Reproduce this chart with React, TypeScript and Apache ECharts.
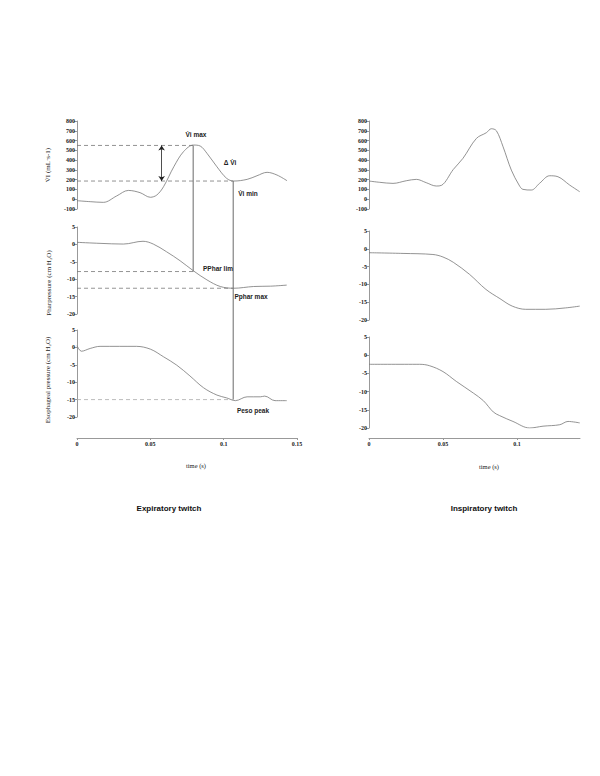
import React, { useEffect, useRef } from "react";
import * as echarts from "echarts";

// ---------- DATA ----------
// Expiratory twitch (left column)
const expViTime = [0, 0.009, 0.018, 0.027, 0.035, 0.043, 0.05, 0.0544, 0.059, 0.066, 0.0726, 0.0794, 0.084, 0.0886, 0.0954, 0.102, 0.1068, 0.116, 0.1227, 0.1296, 0.1364, 0.1432];
const expViValues = [-15, -25, -32, 33, 90, 67, 20, 43, 128, 332, 486, 554, 544, 470, 332, 214, 186, 203, 240, 275, 247, 189];

const expPpharTime = [0, 0.0157, 0.0316, 0.045, 0.052, 0.061, 0.0703, 0.0794, 0.0886, 0.0977, 0.1068, 0.1204, 0.132, 0.143];
const expPpharValues = [0.6, 0.3, 0.1, 0.9, 0.1, -2.1, -4.7, -7.6, -10.2, -12.1, -12.6, -12.1, -12.0, -11.7];

const expPesoTime = [0, 0.003, 0.009, 0.0157, 0.029, 0.0405, 0.05, 0.059, 0.068, 0.077, 0.0863, 0.0954, 0.102, 0.108, 0.116, 0.125, 0.128, 0.135, 0.143];
const expPesoValues = [0.5, -1.1, -0.3, 0.3, 0.3, 0.3, -0.5, -2.7, -5.1, -8.2, -11.6, -13.7, -14.5, -15.3, -14.2, -14.2, -14.0, -15.3, -15.3];

// Inspiratory twitch (right column)
const inspViTime = [0, 0.0072, 0.0162, 0.0252, 0.032, 0.0387, 0.0455, 0.049, 0.057, 0.0635, 0.0726, 0.0793, 0.0827, 0.0861, 0.0906, 0.0962, 0.1014, 0.104, 0.1097, 0.1153, 0.1221, 0.1277, 0.1356, 0.1424];
const inspViValues = [186, 173, 162, 189, 203, 169, 135, 142, 305, 418, 622, 680, 721, 700, 537, 298, 145, 101, 94, 163, 240, 230, 145, 77];

const inspPpharTime = [0, 0.023, 0.0432, 0.05, 0.057, 0.068, 0.079, 0.0885, 0.0968, 0.1059, 0.1194, 0.1329, 0.1424];
const inspPpharValues = [-1.1, -1.3, -1.6, -2.3, -3.8, -7.2, -11.4, -14.0, -16.1, -17.0, -17.0, -16.6, -16.1];

const inspPesoTime = [0, 0.0342, 0.041, 0.05, 0.059, 0.0705, 0.0773, 0.084, 0.0883, 0.0973, 0.1086, 0.1176, 0.1289, 0.1345, 0.1424];
const inspPesoValues = [-2.5, -2.5, -2.9, -4.5, -7.2, -10.4, -12.5, -15.6, -16.6, -18.2, -20.0, -19.5, -19.1, -18.2, -18.6];

// Annotation values (expiratory twitch)
const viMax = 550;
const viMin = 186;
const ppharLim = -7.8;
const ppharMax = -12.6;
const pesoPeak = -15.0;
const tViMax = 0.0792;
const tViMin = 0.1065;
const tArrow = 0.0577;

// Axis ranges / ticks
const viRange = [-100, 800, 100];
const pRange = [-20, 5, 5];
const leftTimeMax = 0.15;
const rightTimeMax = 0.1426;
const timeInterval = 0.05;

const zip = (t: number[], v: number[]) => t.map((x, i) => [x, v[i]]);

export default function App() {
  const ref = useRef<HTMLDivElement>(null);
  useEffect(() => {
    const chart = echarts.init(ref.current!, null, { renderer: "svg" });
    const serif = "Liberation Serif";
    const sans = "Liberation Sans";
    const axisGray = "#999";
    const curveColor = "#777";

    const grids = [
      { left: 77, top: 121, width: 220, height: 88 },
      { left: 77, top: 227, width: 220, height: 87 },
      { left: 77, top: 330, width: 220, height: 87 },
      { left: 369, top: 121, width: 211, height: 88 },
      { left: 369, top: 231, width: 211, height: 89 },
      { left: 369, top: 337, width: 211, height: 91 },
    ];

    const xAxes = grids.map((_, i) => {
      const isLeft = i < 3;
      const bottom = i === 2 || i === 5;
      return {
        type: "value",
        gridIndex: i,
        min: 0,
        max: isLeft ? leftTimeMax : rightTimeMax,
        interval: timeInterval,
        show: bottom,
        position: "bottom",
        offset: i === 2 ? 21 : 10,
        axisLine: { show: true, onZero: false, lineStyle: { color: axisGray, width: 1 } },
        axisTick: { show: true, length: 2, lineStyle: { color: axisGray } },
        axisLabel: {
          fontSize: 6,
          fontWeight: "bold",
          fontFamily: serif,
          color: "#222",
          margin: 3,
          showMaxLabel: isLeft,
        },
        splitLine: { show: false },
      };
    });

    const yAxes = grids.map((_, i) => {
      const r = i % 3 === 0 ? viRange : pRange;
      return {
        type: "value",
        gridIndex: i,
        min: r[0],
        max: r[1],
        interval: r[2],
        axisLine: { show: true, onZero: false, lineStyle: { color: axisGray, width: 1 } },
        axisTick: { show: true, length: 3, lineStyle: { color: axisGray } },
        axisLabel: { fontSize: 6, fontWeight: "bold", fontFamily: serif, color: "#222", margin: 2 },
        splitLine: { show: false },
      };
    });

    const curve = (i: number, t: number[], v: number[]) => ({
      type: "line",
      xAxisIndex: i,
      yAxisIndex: i,
      data: zip(t, v),
      showSymbol: false,
      smooth: 0.35,
      silent: true,
      lineStyle: { color: curveColor, width: 0.8 },
    });

    const dashed = (i: number, tEnd: number, y: number, color: string) => ({
      type: "line",
      xAxisIndex: i,
      yAxisIndex: i,
      data: [
        [0, y],
        [tEnd, y],
      ],
      showSymbol: false,
      silent: true,
      lineStyle: { color, width: 0.8, type: [4, 3] },
    });

    const series: any[] = [
      {
        ...curve(0, expViTime, expViValues),
        markLine: {
          silent: true,
          symbol: ["arrow", "arrow"],
          symbolSize: 5,
          label: { show: false },
          lineStyle: { color: "#222", width: 0.8, type: "solid" },
          data: [[{ coord: [tArrow, viMax] }, { coord: [tArrow, viMin] }]],
        },
      },
      curve(1, expPpharTime, expPpharValues),
      curve(2, expPesoTime, expPesoValues),
      curve(3, inspViTime, inspViValues),
      curve(4, inspPpharTime, inspPpharValues),
      curve(5, inspPesoTime, inspPesoValues),
      dashed(0, tViMax, viMax, "#777"),
      dashed(0, tViMin, viMin, "#777"),
      dashed(1, tViMax, ppharLim, "#777"),
      dashed(1, tViMin, ppharMax, "#777"),
      dashed(2, tViMin, pesoPeak, "#aaa"),
    ];

    chart.setOption({
      animation: false,
      grid: grids,
      xAxis: xAxes,
      yAxis: yAxes,
      series,
    });

    const px = (g: number, t: number, v: number) =>
      chart.convertToPixel({ gridIndex: g }, [t, v]) as number[];

    const a1 = px(0, tViMax, viMax);
    const a2 = px(1, tViMax, ppharLim);
    const b1 = px(0, tViMin, viMin);
    const b2 = px(2, tViMin, pesoPeak);

    const txt = (text: string, x: number, y: number, opts: any = {}) => ({
      type: "text",
      x,
      y,
      rotation: opts.rotation || 0,
      silent: true,
      style: {
        text,
        font: opts.font || `bold 6.5px ${sans}`,
        fill: opts.fill || "#222",
        align: "center",
        verticalAlign: "middle",
      },
    });

    const axisNameFont = `7px ${serif}`;

    chart.setOption({
      graphic: [
        {
          type: "line",
          silent: true,
          shape: { x1: a1[0], y1: a1[1], x2: a2[0], y2: a2[1] },
          style: { stroke: "#444", lineWidth: 0.8 },
        },
        {
          type: "line",
          silent: true,
          shape: { x1: b1[0], y1: b1[1], x2: b2[0], y2: b2[1] },
          style: { stroke: "#444", lineWidth: 0.8 },
        },
        txt("V\u0307i max", 196, 134),
        txt("\u0394 V\u0307i", 230, 162),
        txt("V\u0307i min", 248, 193),
        txt("PPhar lim", 218, 268),
        txt("Pphar max", 251, 296),
        txt("Peso peak", 253, 410),
        txt("V\u0307I (mL\u00b7s-1)", 48, 165, { rotation: Math.PI / 2, font: axisNameFont }),
        txt("Pharpressure (cm H\u2082O)", 49, 283, { rotation: Math.PI / 2, font: axisNameFont }),
        txt("Esophageal pressure (cm H\u2082O)", 48, 380, { rotation: Math.PI / 2, font: axisNameFont }),
        txt("time (s)", 196, 465, { font: `6.5px ${serif}` }),
        txt("time (s)", 489, 466, { font: `6.5px ${serif}` }),
        txt("Expiratory twitch", 169, 508, { font: `bold 8px ${sans}`, fill: "#111" }),
        txt("Inspiratory twitch", 484, 508, { font: `bold 8px ${sans}`, fill: "#111" }),
      ],
    });

    return () => chart.dispose();
  }, []);

  return (
    <div
      ref={ref}
      style={{ position: "absolute", left: 0, top: 0, width: 600, height: 776, background: "#fff" }}
    />
  );
}
